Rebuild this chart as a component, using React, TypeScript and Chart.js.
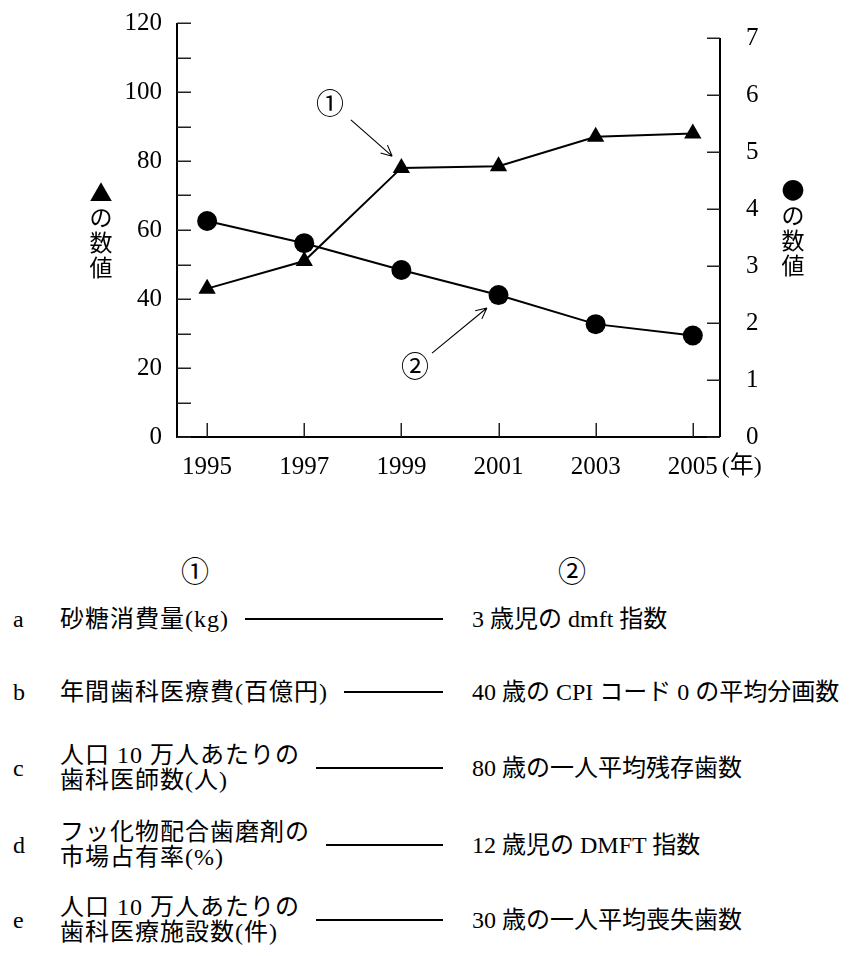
import React, { useEffect, useRef } from 'react'
import { Chart, registerables } from 'chart.js'

Chart.register(...registerables)

// data
const YEARS = [1995, 1997, 1999, 2001, 2003, 2005]
const TRIANGLE_VALUES = [43, 51, 78, 78.5, 87, 88] // ▲ left axis
const CIRCLE_VALUES = [3.79, 3.4, 2.93, 2.49, 1.98, 1.78] // ● right axis
const LEFT_TICKS = [0, 10, 20, 30, 40, 50, 60, 70, 80, 90, 100, 110, 120]
const RIGHT_TICKS = [0, 1, 2, 3, 4, 5, 6, 7]

const LEFT_TITLE = ['▲', 'の', '数', '値']
const RIGHT_TITLE = ['●', 'の', '数', '値']

const ROW_LETTERS = ['a', 'b', 'c', 'd', 'e']
const ROW_LEFT = [
  ['砂糖消費量(kg)'],
  ['年間歯科医療費(百億円)'],
  ['人口 10 万人あたりの', '歯科医師数(人)'],
  ['フッ化物配合歯磨剤の', '市場占有率(%)'],
  ['人口 10 万人あたりの', '歯科医療施設数(件)'],
]
const ROW_RIGHT = [
  '3 歳児の dmft 指数',
  '40 歳の CPI コード 0 の平均分画数',
  '80 歳の一人平均残存歯数',
  '12 歳児の DMFT 指数',
  '30 歳の一人平均喪失歯数',
]

const FONT = "'Liberation Serif', 'Noto Sans CJK JP', serif"
const JP = "'Noto Sans CJK JP', sans-serif"

// annotation placement in data units (x: year, y: left axis)
const NOTES = [
  { text: '①', at: [1997.53, 96.8], from: [1997.96, 91.9], to: [1998.81, 81.4] },
  { text: '②', at: [1999.28, 20.6], from: [1999.63, 24.3], to: [2000.76, 37.4] },
]

const ROW_CENTERS = [619, 692, 768, 845, 920]

const frame = {
  id: 'frame',
  afterDraw(chart: any) {
    const { ctx, chartArea: a, scales } = chart
    const x = scales.x
    const y = scales.y
    const y2 = scales.y2
    ctx.save()
    ctx.strokeStyle = '#000'
    ctx.lineCap = 'butt'

    ctx.lineWidth = 2
    ctx.beginPath()
    ctx.moveTo(a.left, a.top)
    ctx.lineTo(a.left, a.bottom)
    ctx.lineTo(a.right, a.bottom)
    ctx.moveTo(a.right, y2.getPixelForValue(RIGHT_TICKS[RIGHT_TICKS.length - 1]))
    ctx.lineTo(a.right, a.bottom)
    ctx.stroke()

    ctx.lineWidth = 1.5
    ctx.strokeStyle = '#222'
    ctx.beginPath()
    LEFT_TICKS.forEach((v) => {
      const py = Math.round(y.getPixelForValue(v)) + 0.25
      ctx.moveTo(a.left, py)
      ctx.lineTo(a.left + 14, py)
    })
    RIGHT_TICKS.forEach((v) => {
      const py = Math.round(y2.getPixelForValue(v)) + 0.25
      ctx.moveTo(a.right - 13, py)
      ctx.lineTo(a.right, py)
    })
    YEARS.forEach((v) => {
      const px = Math.round(x.getPixelForValue(v)) + 0.25
      ctx.moveTo(px, a.bottom)
      ctx.lineTo(px, a.bottom - 14)
    })
    ctx.stroke()

    // axis titles, stacked vertically
    ctx.fillStyle = '#000'
    ctx.textAlign = 'center'
    ctx.textBaseline = 'middle'
    ctx.font = `23px ${JP}`
    LEFT_TITLE.forEach((c, i) => ctx.fillText(c, a.left - 76, a.top + 169 + i * 25))
    RIGHT_TITLE.forEach((c, i) => ctx.fillText(c, a.right + 73, a.top + 167 + i * 25))

    // year unit
    ctx.textAlign = 'left'
    ctx.font = `24px ${FONT}`
    ctx.fillText('(年)', x.getPixelForValue(2005) + 29, a.bottom + 30)

    // callouts
    ctx.font = `28px ${JP}`
    ctx.textAlign = 'center'
    ctx.lineWidth = 1.1
    ctx.strokeStyle = '#000'
    NOTES.forEach((n) => {
      ctx.fillText(n.text, x.getPixelForValue(n.at[0]), y.getPixelForValue(n.at[1]))
      const x0 = x.getPixelForValue(n.from[0])
      const y0 = y.getPixelForValue(n.from[1])
      const x1 = x.getPixelForValue(n.to[0])
      const y1 = y.getPixelForValue(n.to[1])
      const ang = Math.atan2(y1 - y0, x1 - x0)
      ctx.beginPath()
      ctx.moveTo(x0, y0)
      ctx.lineTo(x1, y1)
      for (const s of [-1, 1]) {
        ctx.moveTo(x1, y1)
        ctx.lineTo(x1 - 12 * Math.cos(ang + s * 0.45), y1 - 12 * Math.sin(ang + s * 0.45))
      }
      ctx.stroke()
    })
    ctx.restore()
  },
}

const noPad = (s: any) => {
  s.paddingTop = 0
  s.paddingBottom = 0
  s.paddingLeft = 0
  s.paddingRight = 0
}

const LineChart: React.FC = () => {
  const ref = useRef<HTMLCanvasElement | null>(null)

  useEffect(() => {
    if (!ref.current) return
    const tickFont = { family: FONT, size: 25 }
    const chart = new Chart(ref.current, {
      type: 'line',
      data: {
        datasets: [
          {
            label: '②',
            data: YEARS.map((yr, i) => ({ x: yr, y: CIRCLE_VALUES[i] })),
            yAxisID: 'y2',
            borderColor: '#000',
            backgroundColor: '#000',
            borderWidth: 2,
            pointStyle: 'circle',
            pointRadius: 10,
            pointBorderWidth: 0,
            tension: 0,
          },
          {
            label: '①',
            data: YEARS.map((yr, i) => ({ x: yr, y: TRIANGLE_VALUES[i] })),
            yAxisID: 'y',
            borderColor: '#000',
            backgroundColor: '#000',
            borderWidth: 2,
            pointStyle: 'triangle',
            pointRadius: 10,
            pointBorderWidth: 0,
            tension: 0,
          },
        ],
      },
      options: {
        animation: false,
        responsive: false,
        devicePixelRatio: 1,
        layout: { padding: { top: 23, left: 0, right: 0, bottom: 0 } },
        plugins: { legend: { display: false }, tooltip: { enabled: false } },
        scales: {
          x: {
            type: 'linear',
            min: 1994.38,
            max: 2005.56,
            afterBuildTicks: (s: any) => {
              s.ticks = YEARS.map((v) => ({ value: v }))
            },
            afterFit: (s: any) => {
              s.height = 63
              noPad(s)
            },
            grid: { display: false, drawTicks: false },
            border: { display: false },
            ticks: {
              font: tickFont,
              color: '#000',
              padding: 15,
              maxRotation: 0,
              autoSkip: false,
              callback: (v: any) => String(v),
            },
          },
          y: {
            type: 'linear',
            position: 'left',
            min: 0,
            max: 120,
            afterBuildTicks: (s: any) => {
              s.ticks = LEFT_TICKS.map((v) => ({ value: v }))
            },
            afterFit: (s: any) => {
              s.width = 177
              noPad(s)
            },
            grid: { display: false, drawTicks: false },
            border: { display: false },
            ticks: {
              font: tickFont,
              color: '#000',
              padding: 15,
              autoSkip: false,
              callback: (v: any) => (v % 20 === 0 ? String(v) : ''),
            },
          },
          y2: {
            type: 'linear',
            position: 'right',
            min: 0,
            max: 7.263,
            afterBuildTicks: (s: any) => {
              s.ticks = RIGHT_TICKS.map((v) => ({ value: v }))
            },
            afterFit: (s: any) => {
              s.width = 135
              noPad(s)
            },
            grid: { display: false, drawTicks: false },
            border: { display: false },
            ticks: {
              font: tickFont,
              color: '#000',
              padding: 26,
              autoSkip: false,
              callback: (v: any) => String(v),
            },
          },
        },
      },
      plugins: [frame],
    })
    return () => chart.destroy()
  }, [])

  return <canvas ref={ref} width={855} height={500} style={{ position: 'absolute', left: 0, top: 0 }} />
}

const text: React.CSSProperties = {
  fontFamily: FONT,
  fontSize: 24,
  color: '#000',
  whiteSpace: 'nowrap',
}

export default function App() {
  return (
    <div style={{ position: 'absolute', left: 0, top: 0, width: 855, height: 956, background: '#fff' }}>
      <LineChart />
      <div style={{ ...text, fontFamily: JP, fontSize: 28, position: 'absolute', left: 181, top: 552, lineHeight: '36px' }}>①</div>
      <div style={{ ...text, fontFamily: JP, fontSize: 28, position: 'absolute', left: 558, top: 552, lineHeight: '36px' }}>②</div>
      {ROW_LETTERS.map((letter, i) => (
        <div
          key={letter}
          style={{ position: 'absolute', left: 0, top: ROW_CENTERS[i] - 25, width: 855, height: 50 }}
        >
          <div style={{ ...text, position: 'absolute', left: 13, top: 0, lineHeight: '50px' }}>{letter}</div>
          <div
            style={{
              position: 'absolute',
              left: 60,
              top: 0,
              width: 383,
              height: 50,
              display: 'flex',
              alignItems: 'center',
            }}
          >
            <div style={{ ...text, letterSpacing: 1, lineHeight: '25px' }}>
              {ROW_LEFT[i].map((l) => (
                <div key={l}>{l}</div>
              ))}
            </div>
            <div style={{ flex: 1, marginLeft: 16, height: 1.5, background: '#000' }} />
          </div>
          <div style={{ ...text, position: 'absolute', left: 472, top: 0, lineHeight: '50px' }}>{ROW_RIGHT[i]}</div>
        </div>
      ))}
    </div>
  )
}
